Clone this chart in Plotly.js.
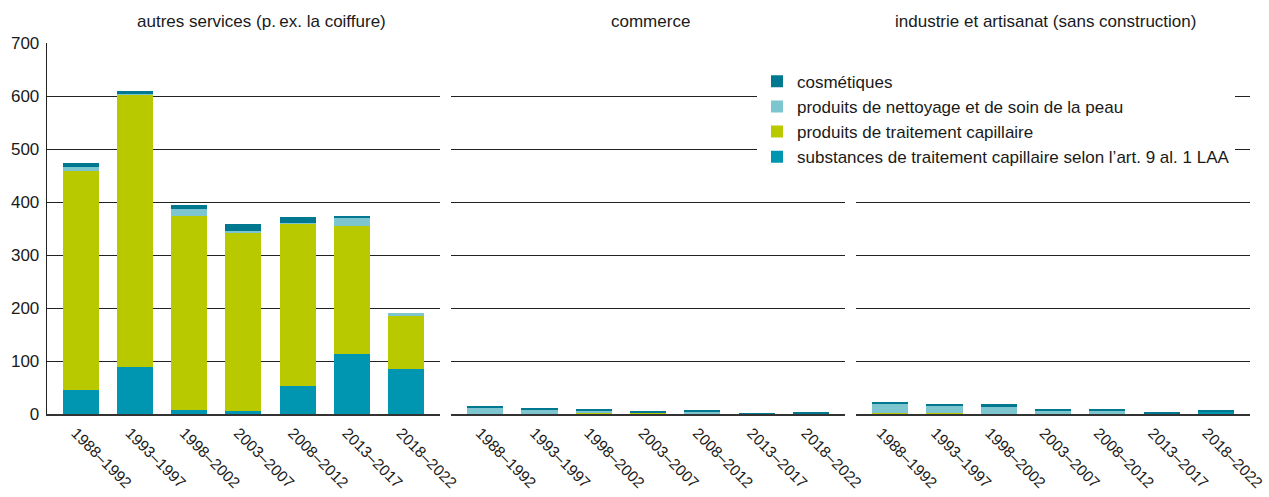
<!DOCTYPE html>
<html>
<head>
<meta charset="utf-8">
<script src="https://cdn.plot.ly/plotly-3.0.1.min.js"></script>
<style>html,body{margin:0;padding:0;background:#fff;}#chart{width:1269px;height:497px;}</style>
</head>
<body>
<div id="chart"></div>
<script>
const periods = ['1988–1992','1993–1997','1998–2002','2003–2007','2008–2012','2013–2017','2018–2022'];
const panelTitles = ['autres services (p.\u2009ex. la coiffure)', 'commerce', 'industrie et artisanat (sans construction)'];
const seriesNames = ['substances de traitement capillaire selon l’art. 9 al. 1 LAA', 'produits de traitement capillaire', 'produits de nettoyage et de soin de la peau', 'cosmétiques'];
const seriesColors = ['#0095b0', '#b9c900', '#7dc6cf', '#00788f'];

// autres services
const substAutres = [45, 89, 8, 6, 52, 114, 84];
const capAutres   = [413, 514, 366, 335, 308, 241, 100];
const nettAutres  = [8, 1, 13, 4, 1, 15, 7];
const cosmAutres  = [7, 5, 7, 13, 11, 4, 0];
// commerce
const substCommerce = [0, 0, 0, 0, 0, 0, 0];
const capCommerce   = [0, 0, 1, 1, 1, 0, 0];
const nettCommerce  = [12, 8, 4, 0, 2, 0, 0];
const cosmCommerce  = [4, 4, 4, 4, 4, 1, 2];
// industrie et artisanat
const substIndustrie = [0, 0, 0, 0, 0, 0, 4];
const capIndustrie   = [2, 1, 0, 0, 0, 0, 0];
const nettIndustrie  = [16, 14, 14, 6, 6, 0, 0];
const cosmIndustrie  = [4, 4, 4, 4, 4, 4, 4];

const panelData = [
  [substAutres, capAutres, nettAutres, cosmAutres],
  [substCommerce, capCommerce, nettCommerce, cosmCommerce],
  [substIndustrie, capIndustrie, nettIndustrie, cosmIndustrie]
];
const axisIds = ['', '2', '3'];

const traces = [];
panelData.forEach((series, p) => {
  series.forEach((vals, s) => {
    traces.push({
      type: 'bar',
      x: periods,
      y: vals,
      name: seriesNames[s],
      legendgroup: 'g' + s,
      showlegend: p === 0,
      marker: {color: seriesColors[s], line: {width: 0}},
      xaxis: 'x' + axisIds[p],
      yaxis: 'y' + axisIds[p],
      hoverinfo: 'x+y+name'
    });
  });
});

const W = 1269;
const domains = [[46.7 / W, 440 / W], [451 / W, 845 / W], [856 / W, 1250 / W]];
const font = {family: '"Liberation Sans", Arial, Helvetica, sans-serif', color: '#1a1a1a'};

const layout = {
  width: 1269, height: 497,
  margin: {l: 0, r: 0, t: 43, b: 83},
  paper_bgcolor: '#fff', plot_bgcolor: '#fff',
  barmode: 'stack',
  bargap: 0.335,
  font: Object.assign({size: 17}, font),
  showlegend: true,
  legend: {
    x: 757 / W, xanchor: 'left', y: 0.944, yanchor: 'top',
    traceorder: 'reversed',
    font: Object.assign({size: 17}, font),
    bgcolor: '#ffffff', tracegroupgap: 5, itemwidth: 30
  },
  annotations: [],
  hovermode: 'closest'
};

panelData.forEach((_, p) => {
  const xa = 'xaxis' + axisIds[p];
  const ya = 'yaxis' + axisIds[p];
  layout[xa] = {
    domain: domains[p],
    anchor: 'y' + axisIds[p],
    type: 'category',
    range: [-0.63, 6.63],
    tickangle: 45,
    tickfont: Object.assign({size: 15.5}, font),
    ticklabelstandoff: 2,
    ticklabelshift: p === 2 ? -9 : -5,
    showgrid: false,
    showline: true, linecolor: '#333', linewidth: 2,
    ticks: '', layer: 'below traces',
    zeroline: false, fixedrange: true
  };
  layout[ya] = {
    domain: [0, 1],
    anchor: 'x' + axisIds[p],
    range: [0, 700],
    dtick: 100,
    showgrid: true, gridcolor: '#222', gridwidth: 1,
    showticklabels: p === 0,
    tickfont: Object.assign({size: 17}, font),
    ticklabelstandoff: 3,
    showline: p === 0, linecolor: '#222', linewidth: 1,
    ticks: '', ticklen: 0,
    zeroline: false, layer: 'below traces', fixedrange: true
  };
  if (p > 0) layout[ya].matches = 'y';
});

const titleCenters = [261, 650, 1045];
panelTitles.forEach((t, i) => {
  layout.annotations.push({
    text: t, xref: 'paper', yref: 'paper',
    x: titleCenters[i] / W, xanchor: 'center',
    y: 1 + (43 - 21) / 371, yanchor: 'middle',
    showarrow: false, font: Object.assign({size: 17}, font)
  });
});

Plotly.newPlot('chart', traces, layout, {displayModeBar: false, responsive: false});
</script>
</body>
</html>
